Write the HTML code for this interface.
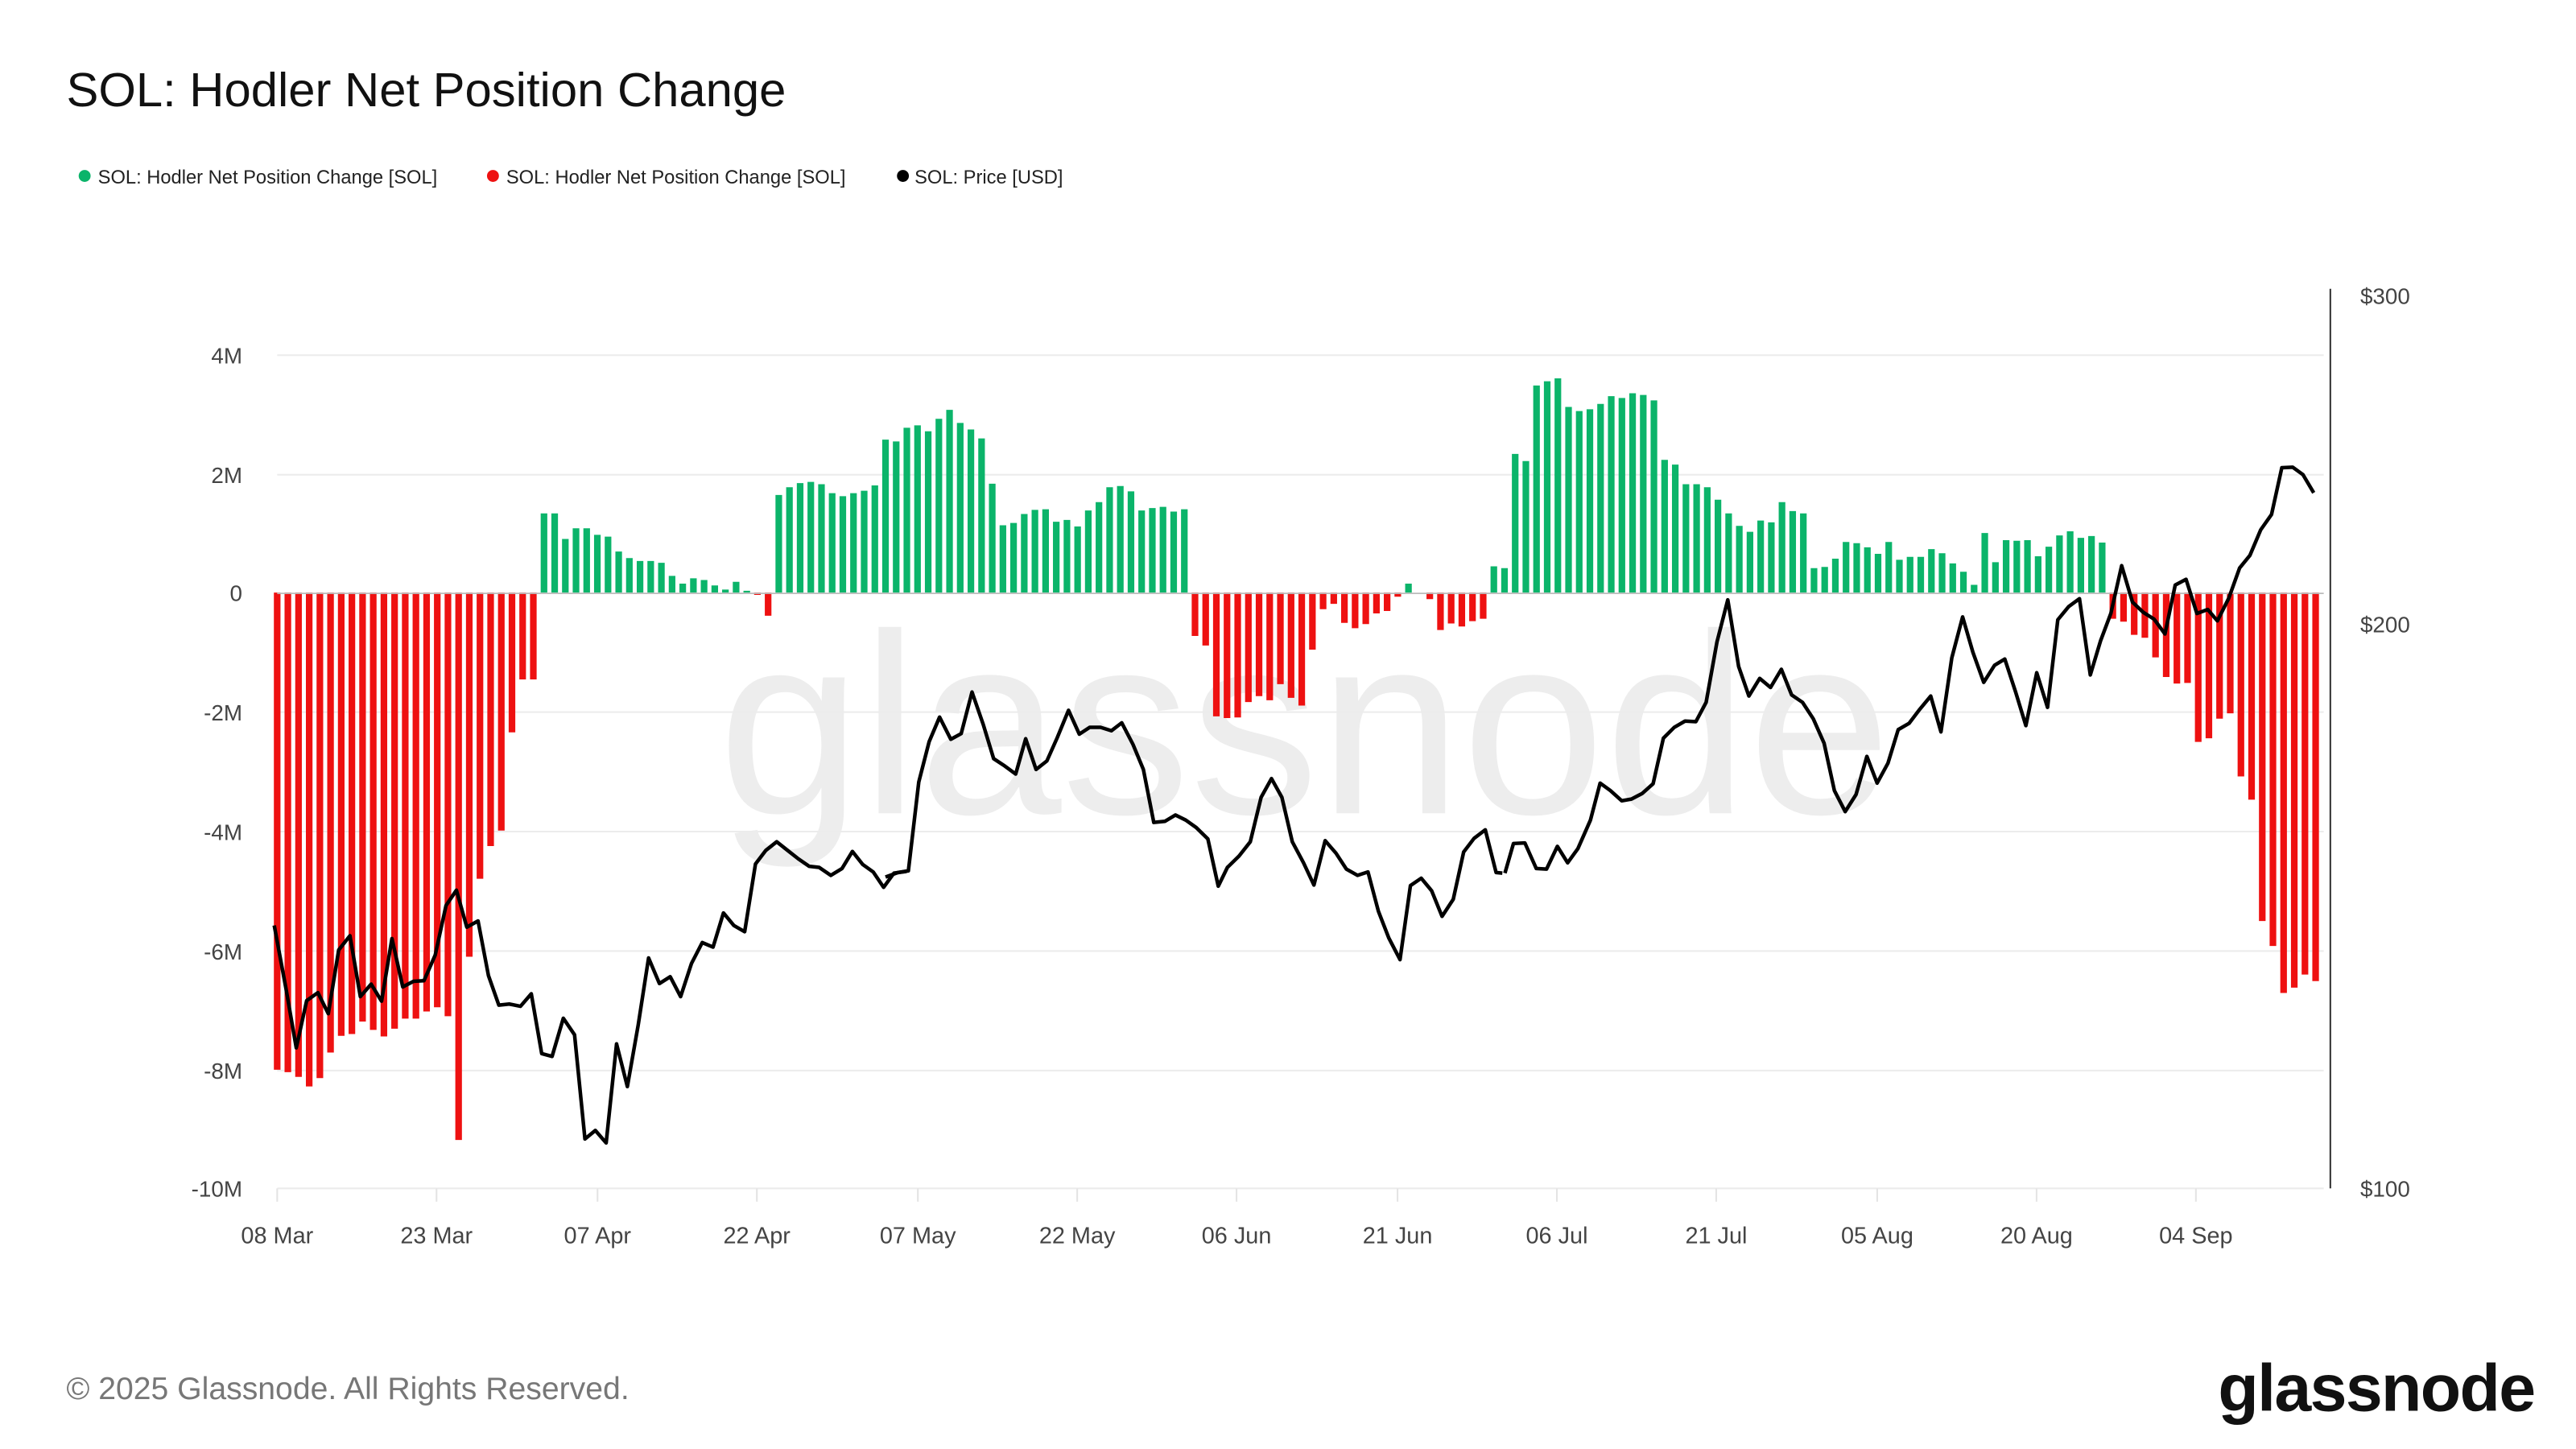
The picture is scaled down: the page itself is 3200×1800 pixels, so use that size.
<!DOCTYPE html>
<html><head><meta charset="utf-8"><style>
html,body{margin:0;padding:0;background:#fff;}
svg{display:block;}
text{font-family:"Liberation Sans","DejaVu Sans",sans-serif;}
</style></head><body>
<svg width="3200" height="1800" viewBox="0 0 1552 873" xmlns="http://www.w3.org/2000/svg">
<rect width="1552" height="873" fill="#fff"/>
<text x="40" y="64" font-size="29" fill="#111">SOL: Hodler Net Position Change</text>
<circle cx="51" cy="106" r="3.6" fill="#0bb46a"/><text x="59" y="110.5" font-size="11.5" fill="#222">SOL: Hodler Net Position Change [SOL]</text>
<circle cx="297" cy="106" r="3.6" fill="#ee1111"/><text x="305" y="110.5" font-size="11.5" fill="#222">SOL: Hodler Net Position Change [SOL]</text>
<circle cx="544" cy="106" r="3.6" fill="#000"/><text x="551" y="110.5" font-size="11.5" fill="#222">SOL: Price [USD]</text>
<text x="786" y="490" font-size="155" fill="#ededed" text-anchor="middle">glassnode</text>
<g stroke="#ececec" stroke-width="1">
<line x1="167" y1="214" x2="1400" y2="214"/><line x1="167" y1="286" x2="1400" y2="286"/>
<line x1="167" y1="429" x2="1400" y2="429"/><line x1="167" y1="501" x2="1400" y2="501"/>
<line x1="167" y1="573" x2="1400" y2="573"/><line x1="167" y1="645" x2="1400" y2="645"/>
<line x1="167" y1="716" x2="1400" y2="716"/>
</g>
<g stroke="#e4e4e4" stroke-width="1">
<line x1="167" y1="716" x2="167" y2="724"/><line x1="263" y1="716" x2="263" y2="724"/><line x1="360" y1="716" x2="360" y2="724"/><line x1="456" y1="716" x2="456" y2="724"/><line x1="553" y1="716" x2="553" y2="724"/><line x1="649" y1="716" x2="649" y2="724"/><line x1="745" y1="716" x2="745" y2="724"/><line x1="842" y1="716" x2="842" y2="724"/><line x1="938" y1="716" x2="938" y2="724"/><line x1="1034" y1="716" x2="1034" y2="724"/><line x1="1131" y1="716" x2="1131" y2="724"/><line x1="1227" y1="716" x2="1227" y2="724"/><line x1="1323" y1="716" x2="1323" y2="724"/>
</g>
<g font-size="13.5" fill="#444" text-anchor="end">
<text x="146" y="219">4M</text><text x="146" y="291">2M</text><text x="146" y="362">0</text><text x="146" y="434">-2M</text><text x="146" y="506">-4M</text><text x="146" y="578">-6M</text><text x="146" y="650">-8M</text><text x="146" y="721">-10M</text>
</g>
<g font-size="14" fill="#444" text-anchor="middle">
<text x="167" y="749">08 Mar</text><text x="263" y="749">23 Mar</text><text x="360" y="749">07 Apr</text><text x="456" y="749">22 Apr</text><text x="553" y="749">07 May</text><text x="649" y="749">22 May</text><text x="745" y="749">06 Jun</text><text x="842" y="749">21 Jun</text><text x="938" y="749">06 Jul</text><text x="1034" y="749">21 Jul</text><text x="1131" y="749">05 Aug</text><text x="1227" y="749">20 Aug</text><text x="1323" y="749">04 Sep</text>
</g>
<line x1="1404" y1="174" x2="1404" y2="716" stroke="#333" stroke-width="1"/>
<g font-size="13.5" fill="#444">
<text x="1422" y="183">$300</text><text x="1422" y="381">$200</text><text x="1422" y="721">$100</text>
</g>
<g transform="translate(167,357) scale(6.43,-35.85)">
<path fill="#0bb46a" d="M24.69 0h.62v1.33h-.62zM25.69 0h.62v1.33h-.62zM26.69 0h.62v.9h-.62zM27.69 0h.62v1.08h-.62zM28.69 0h.62v1.08h-.62zM29.69 0h.62v.97h-.62zM30.69 0h.62v.94h-.62zM31.69 0h.62v.69h-.62zM32.69 0h.62v.58h-.62zM33.69 0h.62v.53h-.62zM34.69 0h.62v.53h-.62zM35.69 0h.62v.5h-.62zM36.69 0h.62v.28h-.62zM37.69 0h.62v.15h-.62zM38.69 0h.62v.24h-.62zM39.69 0h.62v.21h-.62zM40.69 0h.62v.12h-.62zM41.69 0h.62v.05h-.62zM42.69 0h.62v.18h-.62zM43.69 0h.62v.03h-.62z
M46.69 0h.62v1.64h-.62zM47.69 0h.62v1.77h-.62zM48.69 0h.62v1.84h-.62zM49.69 0h.62v1.86h-.62zM50.69 0h.62v1.82h-.62zM51.69 0h.62v1.67h-.62zM52.69 0h.62v1.62h-.62zM53.69 0h.62v1.67h-.62zM54.69 0h.62v1.71h-.62zM55.69 0h.62v1.8h-.62zM56.69 0h.62v2.57h-.62zM57.69 0h.62v2.54h-.62zM58.69 0h.62v2.77h-.62zM59.69 0h.62v2.81h-.62zM60.69 0h.62v2.71h-.62zM61.69 0h.62v2.92h-.62zM62.69 0h.62v3.07h-.62zM63.69 0h.62v2.85h-.62zM64.69 0h.62v2.74h-.62zM65.69 0h.62v2.59h-.62zM66.69 0h.62v1.83h-.62zM67.69 0h.62v1.13h-.62zM68.69 0h.62v1.17h-.62zM69.69 0h.62v1.32h-.62zM70.69 0h.62v1.39h-.62zM71.69 0h.62v1.4h-.62zM72.69 0h.62v1.19h-.62zM73.69 0h.62v1.22h-.62zM74.69 0h.62v1.11h-.62zM75.69 0h.62v1.38h-.62zM76.69 0h.62v1.52h-.62zM77.69 0h.62v1.77h-.62zM78.69 0h.62v1.79h-.62zM79.69 0h.62v1.7h-.62zM80.69 0h.62v1.38h-.62zM81.69 0h.62v1.42h-.62zM82.69 0h.62v1.44h-.62zM83.69 0h.62v1.36h-.62zM84.69 0h.62v1.4h-.62z
M105.69 0h.62v.15h-.62zM113.69 0h.62v.44h-.62zM114.69 0h.62v.41h-.62z
M115.69 0h.62v2.33h-.62zM116.69 0h.62v2.21h-.62zM117.69 0h.62v3.48h-.62zM118.69 0h.62v3.55h-.62zM119.69 0h.62v3.6h-.62zM120.69 0h.62v3.12h-.62zM121.69 0h.62v3.05h-.62zM122.69 0h.62v3.08h-.62zM123.69 0h.62v3.17h-.62zM124.69 0h.62v3.3h-.62zM125.69 0h.62v3.27h-.62zM126.69 0h.62v3.35h-.62zM127.69 0h.62v3.32h-.62zM128.69 0h.62v3.23h-.62zM129.69 0h.62v2.23h-.62zM130.69 0h.62v2.15h-.62zM131.69 0h.62v1.82h-.62zM132.69 0h.62v1.82h-.62zM133.69 0h.62v1.77h-.62zM134.69 0h.62v1.56h-.62zM135.69 0h.62v1.33h-.62zM136.69 0h.62v1.12h-.62zM137.69 0h.62v1.02h-.62zM138.69 0h.62v1.21h-.62zM139.69 0h.62v1.18h-.62zM140.69 0h.62v1.52h-.62zM141.69 0h.62v1.37h-.62zM142.69 0h.62v1.33h-.62zM143.69 0h.62v.41h-.62zM144.69 0h.62v.43h-.62zM145.69 0h.62v.57h-.62zM146.69 0h.62v.85h-.62zM147.69 0h.62v.83h-.62zM148.69 0h.62v.76h-.62zM149.69 0h.62v.65h-.62zM150.69 0h.62v.85h-.62zM151.69 0h.62v.55h-.62zM152.69 0h.62v.6h-.62zM153.69 0h.62v.6h-.62zM154.69 0h.62v.73h-.62zM155.69 0h.62v.66h-.62zM156.69 0h.62v.49h-.62zM157.69 0h.62v.35h-.62zM158.69 0h.62v.13h-.62zM159.69 0h.62v1h-.62zM160.69 0h.62v.51h-.62zM161.69 0h.62v.88h-.62zM162.69 0h.62v.87h-.62zM163.69 0h.62v.88h-.62zM164.69 0h.62v.61h-.62zM165.69 0h.62v.77h-.62zM166.69 0h.62v.96h-.62zM167.69 0h.62v1.03h-.62zM168.69 0h.62v.92h-.62zM169.69 0h.62v.95h-.62zM170.69 0h.62v.84h-.62z"/>
<path fill="#ee1111" d="M-.31 0h.62v-8.02h-.62zM.69 0h.62v-8.06h-.62zM1.69 0h.62v-8.14h-.62zM2.69 0h.62v-8.3h-.62zM3.69 0h.62v-8.16h-.62zM4.69 0h.62v-7.73h-.62zM5.69 0h.62v-7.45h-.62zM6.69 0h.62v-7.42h-.62zM7.69 0h.62v-7.21h-.62zM8.69 0h.62v-7.35h-.62zM9.69 0h.62v-7.46h-.62zM10.69 0h.62v-7.33h-.62zM11.69 0h.62v-7.16h-.62zM12.69 0h.62v-7.16h-.62zM13.69 0h.62v-7.04h-.62zM14.69 0h.62v-6.97h-.62zM15.69 0h.62v-7.12h-.62zM16.69 0h.62v-9.2h-.62zM17.69 0h.62v-6.12h-.62zM18.69 0h.62v-4.81h-.62zM19.69 0h.62v-4.26h-.62zM20.69 0h.62v-4h-.62zM21.69 0h.62v-2.35h-.62zM22.69 0h.62v-1.46h-.62zM23.69 0h.62v-1.46h-.62z
M44.69 0h.62v-.04h-.62zM45.69 0h.62v-.39h-.62z
M85.69 0h.62v-.73h-.62zM86.69 0h.62v-.89h-.62zM87.69 0h.62v-2.08h-.62zM88.69 0h.62v-2.11h-.62zM89.69 0h.62v-2.1h-.62zM90.69 0h.62v-1.84h-.62zM91.69 0h.62v-1.74h-.62zM92.69 0h.62v-1.81h-.62zM93.69 0h.62v-1.54h-.62zM94.69 0h.62v-1.77h-.62zM95.69 0h.62v-1.9h-.62zM96.69 0h.62v-.96h-.62zM97.69 0h.62v-.28h-.62zM98.69 0h.62v-.19h-.62zM99.69 0h.62v-.51h-.62zM100.69 0h.62v-.6h-.62zM101.69 0h.62v-.53h-.62zM102.69 0h.62v-.35h-.62zM103.69 0h.62v-.31h-.62zM104.69 0h.62v-.07h-.62z
M107.69 0h.62v-.11h-.62zM108.69 0h.62v-.63h-.62zM109.69 0h.62v-.52h-.62zM110.69 0h.62v-.57h-.62zM111.69 0h.62v-.48h-.62zM112.69 0h.62v-.44h-.62z
M171.69 0h.62v-.44h-.62zM172.69 0h.62v-.49h-.62zM173.69 0h.62v-.71h-.62zM174.69 0h.62v-.76h-.62zM175.69 0h.62v-1.09h-.62zM176.69 0h.62v-1.42h-.62zM177.69 0h.62v-1.53h-.62zM178.69 0h.62v-1.52h-.62zM179.69 0h.62v-2.51h-.62zM180.69 0h.62v-2.45h-.62zM181.69 0h.62v-2.12h-.62zM182.69 0h.62v-2.03h-.62zM183.69 0h.62v-3.09h-.62zM184.69 0h.62v-3.48h-.62zM185.69 0h.62v-5.52h-.62zM186.69 0h.62v-5.94h-.62zM187.69 0h.62v-6.73h-.62zM188.69 0h.62v-6.64h-.62zM189.69 0h.62v-6.42h-.62zM190.69 0h.62v-6.53h-.62z"/>
</g>
<line x1="167" y1="357.5" x2="1400" y2="357.5" stroke="#bbb" stroke-width="0.8"/>
<g fill="none" stroke="#000" stroke-width="4.5" stroke-linejoin="round">
<polyline vector-effect="non-scaling-stroke" transform="translate(155.2,194) scale(0.2506,0.343)" points="40,1060 68,1170 93,1275 118,1192 145,1178 170,1215 195,1103 222,1078 247,1185 273,1163 298,1193 323,1083 349,1168 375,1158 400,1157 427,1112 453,1025 478,998 503,1063 530,1052 555,1148 580,1200 605,1198 632,1202 658,1180 683,1285 708,1290 735,1223 762,1252 787,1435 812,1420 838,1442 863,1268 889,1343 915,1235 940,1117 966,1162 992,1150 1017,1185 1043,1127 1069,1090 1095,1098 1120,1038 1145,1060 1171,1071 1197,952 1222,928 1248,913 1274,928 1300,943 1326,956 1350,958 1378,972 1405,960 1430,930 1455,953 1480,966 1505,993 1530,968 1560,965"/>
<polyline vector-effect="non-scaling-stroke" transform="translate(533.5,194) scale(0.2506,0.343)" points="0,975 30,967 55,964 80,808 105,737 130,694 157,733 182,723 208,650 235,707 260,767 287,780 313,794 337,732 362,786 388,771 413,730 440,682 466,724 491,712 517,712 543,718 568,704 595,742 620,786 645,879 672,877 697,866 722,875 747,888 775,908 800,991 822,958 850,938 877,913 903,835 928,802 953,835 978,913 1005,950 1030,989 1057,911 1083,933 1108,961 1135,972 1160,966 1185,1035 1210,1082 1237,1120 1262,990 1288,977 1313,999 1338,1044 1365,1014 1390,931 1415,907 1442,892 1468,967 1483,968"/>
<polyline vector-effect="non-scaling-stroke" transform="translate(906.7,194) scale(0.3434,0.343)" points="0,968 15,916 35,915 55,960 73,961 92,921 110,950 128,925 150,875 167,810 185,823 205,841 222,838 241,828 260,811 278,731 297,712 316,701 335,702 353,668 372,562 391,488 410,605 428,657 447,626 466,642 485,610 503,655 522,668 541,697 560,740 578,823 597,860 616,830 635,763 653,810 672,775 690,716 709,705 728,680 747,657 765,720 784,590 803,518 821,580 840,633 859,603 877,592 896,650 914,709 933,616 952,677 970,523 989,500 1008,486 1027,620 1045,560 1063,512 1082,428 1101,492 1120,510 1139,522 1158,548 1176,462 1195,452 1214,512 1233,505 1250,525 1270,485 1289,432 1307,410 1326,365 1345,338 1363,256 1382,255 1400,268 1419,300"/>
</g>
<text x="40" y="843" font-size="19" fill="#777">© 2025 Glassnode. All Rights Reserved.</text>
<text x="1527" y="850" font-size="40" fill="#111" text-anchor="end" font-weight="bold" letter-spacing="-0.8">glassnode</text>
</svg>
</body></html>
